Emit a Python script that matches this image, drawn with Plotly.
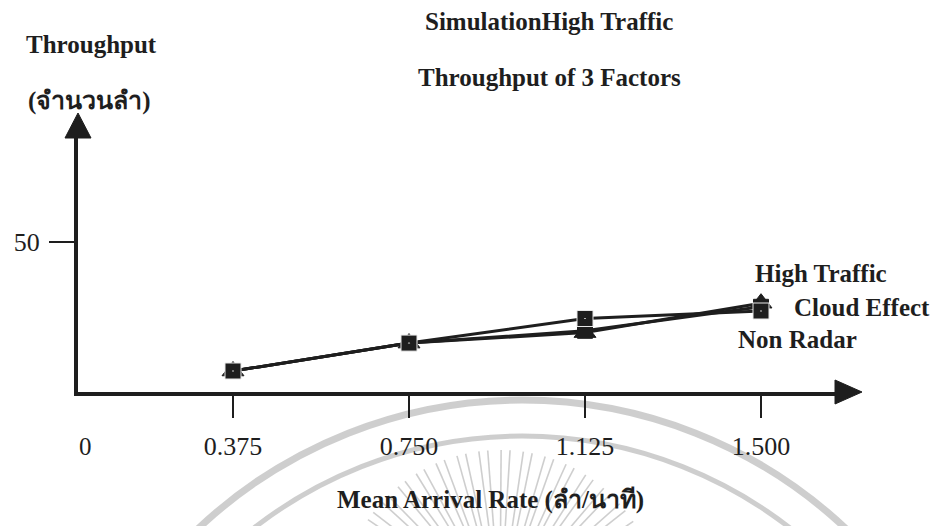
import math
import plotly.graph_objects as go

# Mean arrival rate (aircraft per minute) and throughput for each factor
arrival_rate = [0.375, 0.750, 1.125, 1.500]
tick_labels = ["0.375", "0.750", "1.125", "1.500"]
high_traffic = [7.0, 16.3, 19.8, 29.6]
cloud_effect = [7.0, 16.3, 20.4, 28.4]
non_radar = [7.0, 16.3, 24.5, 27.0]
series_names = ["High Traffic", "Cloud Effect", "Non Radar"]
y_ticks = [50]

SERIF = "Liberation Serif, Times New Roman, serif"
INK = "#1e1e1e"

W, H = 935, 526
PL, PR, PT, PB = 78, 850, 130, 392          # plot area in pixels
PX_PER_X = 469.33                          # pixels per unit of arrival rate
PX_PER_Y = 3.0                             # pixels per aircraft

x_lo = arrival_rate[0] - (233 - PL) / PX_PER_X
x_hi = x_lo + (PR - PL) / PX_PER_X
y_hi = (PB - PT) / PX_PER_Y


def px(xp):
    return (xp - PL) / (PR - PL)


def py(yp):
    return (PB - yp) / (PB - PT)


fig = go.Figure()

styles = [
    dict(symbol="triangle-up", size=19),
    dict(symbol="square", size=15),
    dict(symbol="square-dot", size=16),
]
for name, vals, st in zip(series_names, [high_traffic, cloud_effect, non_radar], styles):
    fig.add_trace(go.Scatter(
        x=arrival_rate, y=vals, name=name, mode="lines+markers",
        line=dict(color=INK, width=3),
        marker=dict(symbol=st["symbol"], size=st["size"], color=INK,
                    line=dict(color="#e8e8e8" if st["symbol"].endswith("dot") else INK, width=1)),
        showlegend=False, cliponaxis=False,
    ))

shapes = []
# faint circular emblem in the background
WM = "rgba(190,190,190,0.75)"
cx, cy = 522, 872
for r, w in [(472, 7), (436, 5)]:
    shapes.append(dict(type="circle", xref="paper", yref="paper",
                       x0=px(cx - r), x1=px(cx + r), y0=py(cy - r), y1=py(cy + r),
                       line=dict(color=WM, width=w), layer="below"))
rcx, rcy = 500, 610
for k in range(15):
    ang = math.radians(32 + k * 8)
    for off in (-1.6, 1.6):
        a = ang + math.radians(off)
        x0, y0 = rcx + 70 * math.cos(a), rcy - 70 * math.sin(a)
        x1, y1 = rcx + 160 * math.cos(a), rcy - 160 * math.sin(a)
        shapes.append(dict(type="line", xref="paper", yref="paper",
                           x0=px(x0), y0=py(y0), x1=px(x1), y1=py(y1),
                           line=dict(color=WM, width=1.6), layer="below"))

# arrowheads at the ends of both axes
shapes.append(dict(type="path", xref="paper", yref="paper",
                   xsizemode="pixel", ysizemode="pixel",
                   xanchor=px(835), yanchor=0,
                   path="M0,12 L27,0 L0,-12 Z",
                   fillcolor=INK, line=dict(color=INK, width=1)))
shapes.append(dict(type="path", xref="paper", yref="paper",
                   xsizemode="pixel", ysizemode="pixel",
                   xanchor=0, yanchor=py(138),
                   path="M-13,0 L0,25 L13,0 Z",
                   fillcolor=INK, line=dict(color=INK, width=1)))

annotations = []


def text(s, xp, yp, size=25, bold=True):
    annotations.append(dict(
        text=f"<b>{s}</b>" if bold else s, x=px(xp), y=py(yp),
        xref="paper", yref="paper", showarrow=False,
        xanchor="center", yanchor="middle",
        font=dict(family=SERIF, size=size, color=INK)))


text("SimulationHigh Traffic", 549, 21)
text("Throughput of 3 Factors", 549, 78)
text("Throughput", 91, 45)
text("(จำนวนลำ)", 89, 101)
text("Mean Arrival Rate (ลำ/นาที)", 490, 500)
text("0", 85, 446, bold=False)
# series names next to the end of the lines
for name, (xp, yp) in zip(series_names, [(821, 273), (862, 307), (797, 339)]):
    text(name, xp, yp)

fig.update_layout(
    width=W, height=H,
    margin=dict(l=PL, r=W - PR, t=PT, b=H - PB, pad=0),
    paper_bgcolor="white", plot_bgcolor="rgba(0,0,0,0)",
    xaxis=dict(range=[x_lo, x_hi], tickvals=arrival_rate, ticktext=tick_labels,
               showgrid=False, zeroline=False, showline=True, linecolor=INK, linewidth=4,
               ticks="outside", ticklen=22, tickwidth=2, tickcolor=INK,
               ticklabelstandoff=6,
               tickfont=dict(family=SERIF, size=26, color=INK)),
    yaxis=dict(range=[0, y_hi], tickvals=y_ticks,
               showgrid=False, zeroline=False, showline=True, linecolor=INK, linewidth=4,
               ticks="outside", ticklen=25, tickwidth=2, tickcolor=INK,
               ticklabelstandoff=4,
               tickfont=dict(family=SERIF, size=26, color=INK)),
    shapes=shapes, annotations=annotations,
)

fig.write_html("out.html")
